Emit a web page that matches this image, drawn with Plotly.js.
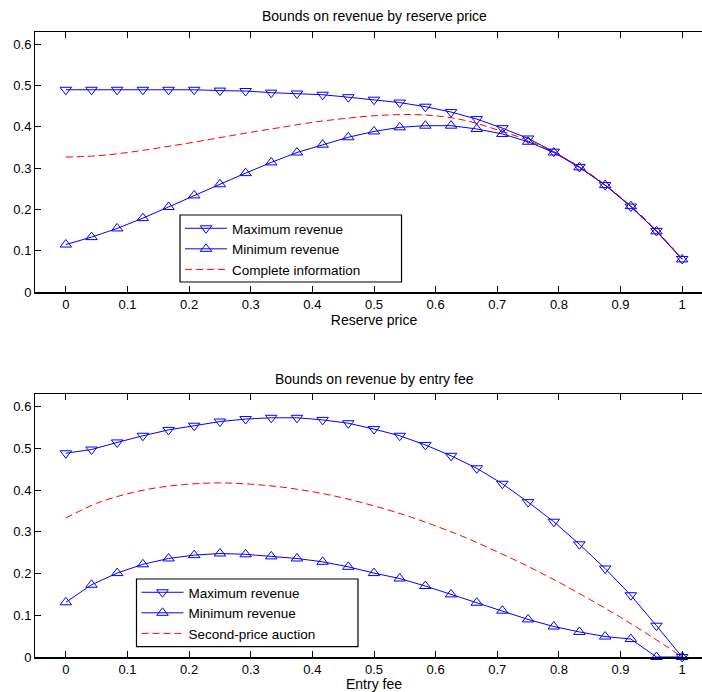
<!DOCTYPE html>
<html>
<head>
<meta charset="utf-8">
<script src="https://cdn.plot.ly/plotly-3.0.1.min.js"></script>
<style>
html, body { margin:0; padding:0; overflow:hidden; background:#fff; }
#chart { width:716px; height:692px; }
</style>
</head>
<body>
<div id="chart"></div>
<script>
// grid of evaluation points (markers)
var xGrid = [0,0.0417,0.0833,0.125,0.1667,0.2083,0.25,0.2917,0.3333,0.375,0.4167,0.4583,0.5,0.5417,0.5833,0.625,0.6667,0.7083,0.75,0.7917,0.8333,0.875,0.9167,0.9583,1];
// grid for the dashed benchmark curves
var xFine = [0,0.05,0.1,0.15,0.2,0.25,0.3,0.35,0.4,0.45,0.5,0.55,0.6,0.65,0.7,0.75,0.8,0.85,0.9,0.95,1];

// Top panel: reserve price
var reserveMax = [0.490,0.490,0.490,0.490,0.490,0.490,0.488,0.487,0.483,0.481,0.478,0.472,0.466,0.459,0.449,0.436,0.419,0.397,0.372,0.340,0.303,0.259,0.207,0.148,0.080];
var reserveMin = [0.115,0.133,0.154,0.179,0.206,0.234,0.261,0.288,0.314,0.338,0.357,0.375,0.389,0.399,0.403,0.403,0.395,0.383,0.364,0.338,0.302,0.259,0.208,0.147,0.079];
var reserveComplete = [0.327,0.330,0.338,0.349,0.361,0.374,0.387,0.399,0.411,0.420,0.427,0.430,0.427,0.415,0.393,0.367,0.332,0.287,0.230,0.162,0.080];

// Bottom panel: entry fee
var entryMax = [0.488,0.497,0.514,0.530,0.544,0.554,0.564,0.570,0.573,0.573,0.568,0.560,0.546,0.530,0.508,0.482,0.452,0.415,0.371,0.324,0.270,0.212,0.148,0.075,0];
var entryMin = [0.131,0.173,0.201,0.222,0.236,0.244,0.248,0.246,0.241,0.236,0.228,0.216,0.201,0.188,0.170,0.150,0.130,0.111,0.090,0.073,0.060,0.049,0.043,0,0];
var entrySecond = [0.333,0.368,0.391,0.406,0.414,0.417,0.414,0.407,0.396,0.381,0.362,0.340,0.314,0.285,0.252,0.217,0.179,0.138,0.095,0.049,0];

var xTicks = [0,0.1,0.2,0.3,0.4,0.5,0.6,0.7,0.8,0.9,1];
var xTickText = ['0','0.1','0.2','0.3','0.4','0.5','0.6','0.7','0.8','0.9','1'];
var yTicks = [0,0.1,0.2,0.3,0.4,0.5,0.6];
var yTickText = ['0','0.1','0.2','0.3','0.4','0.5','0.6'];

var BLUE = '#0000ff', RED = '#ff0000';
var FONT = 'Liberation Sans, Arial, Helvetica, sans-serif';

function markerTrace(x, y, name, sym, xa, ya, leg) {
  return {
    x: x, y: y, name: name, type: 'scatter', mode: 'lines+markers',
    xaxis: xa, yaxis: ya, legend: leg, cliponaxis: false,
    line: {color: BLUE, width: 1},
    marker: {symbol: sym, size: 10, color: BLUE, line: {color: BLUE, width: 1}}
  };
}
function dashTrace(x, y, name, xa, ya, leg) {
  return {
    x: x, y: y, name: name, type: 'scatter', mode: 'lines',
    xaxis: xa, yaxis: ya, legend: leg, cliponaxis: false,
    line: {color: RED, width: 1, dash: '7px,4px', shape: 'spline'}
  };
}

var data = [
  markerTrace(xGrid, reserveMax, 'Maximum revenue', 'triangle-down-open', 'x', 'y', 'legend'),
  markerTrace(xGrid, reserveMin, 'Minimum revenue', 'triangle-up-open', 'x', 'y', 'legend'),
  dashTrace(xFine, reserveComplete, 'Complete information', 'x', 'y', 'legend'),
  markerTrace(xGrid, entryMax, 'Maximum revenue', 'triangle-down-open', 'x2', 'y2', 'legend2'),
  markerTrace(xGrid, entryMin, 'Minimum revenue', 'triangle-up-open', 'x2', 'y2', 'legend2'),
  dashTrace(xFine, entrySecond, 'Second-price auction', 'x2', 'y2', 'legend2')
];

function xAxis(title, anchor) {
  return {
    anchor: anchor, domain: [0, 1], range: [-0.05, 1.05],
    tickmode: 'array', tickvals: xTicks, ticktext: xTickText,
    ticks: 'inside', ticklen: 6, tickwidth: 1, tickcolor: '#000',
    showline: true, linecolor: '#000', linewidth: 1.5, mirror: 'ticks',
    showgrid: false, zeroline: false,
    tickfont: {family: FONT, size: 13, color: '#000'},
    title: {text: title, font: {family: FONT, size: 14, color: '#000'}, standoff: 4}
  };
}
function yAxis(domain, anchor) {
  return {
    anchor: anchor, domain: domain, range: [0, 0.63],
    tickmode: 'array', tickvals: yTicks, ticktext: yTickText,
    ticks: 'inside', ticklen: 6, tickwidth: 1, tickcolor: '#000',
    showline: true, linecolor: '#000', linewidth: 1, mirror: 'ticks',
    showgrid: false, zeroline: false,
    tickfont: {family: FONT, size: 13, color: '#000'}
  };
}
function legendBox(x, y) {
  return {
    x: x, y: y, xanchor: 'left', yanchor: 'top', xref: 'paper', yref: 'paper',
    bgcolor: 'rgba(0,0,0,0)', borderwidth: 0,
    itemwidth: 42,
    font: {family: FONT, size: 13.5, color: '#000'},
    tracegroupgap: 0
  };
}
// legend frame (MATLAB legends are wider than their text)
function frame(x0, x1, y0, y1) {
  return {type: 'rect', xref: 'paper', yref: 'paper', x0: x0, x1: x1, y0: y0, y1: y1,
          fillcolor: '#fff', line: {color: '#000', width: 1.2}, layer: 'above'};
}

var layout = {
  width: 716, height: 692,
  margin: {l: 35, r: 3, t: 32, b: 35, pad: 0},
  paper_bgcolor: '#fff', plot_bgcolor: '#fff',
  font: {family: FONT, size: 13, color: '#000'},
  showlegend: true,
  xaxis: xAxis('Reserve price', 'y'),
  yaxis: yAxis([0.584, 1], 'x'),
  xaxis2: xAxis('Entry fee', 'y2'),
  yaxis2: yAxis([0, 0.4208], 'x2'),
  legend: legendBox(0.2139, 0.7104),
  legend2: legendBox(0.1497, 0.128),
  shapes: [
    frame(0.2139, 0.5406, 0.6, 0.7072),
    frame(0.1497, 0.4764, 0.0165, 0.1248)
  ],
  annotations: [
    {text: 'Bounds on revenue by reserve price', xref: 'paper', yref: 'paper', x: 0.5, y: 1.0256,
     xanchor: 'center', yanchor: 'middle', showarrow: false, font: {family: FONT, size: 14, color: '#000'}},
    {text: 'Bounds on revenue by entry fee', xref: 'paper', yref: 'paper', x: 0.5, y: 0.4448,
     xanchor: 'center', yanchor: 'middle', showarrow: false, font: {family: FONT, size: 14, color: '#000'}}
  ]
};

Plotly.newPlot('chart', data, layout, {displayModeBar: false, staticPlot: true});
</script>
</body>
</html>
